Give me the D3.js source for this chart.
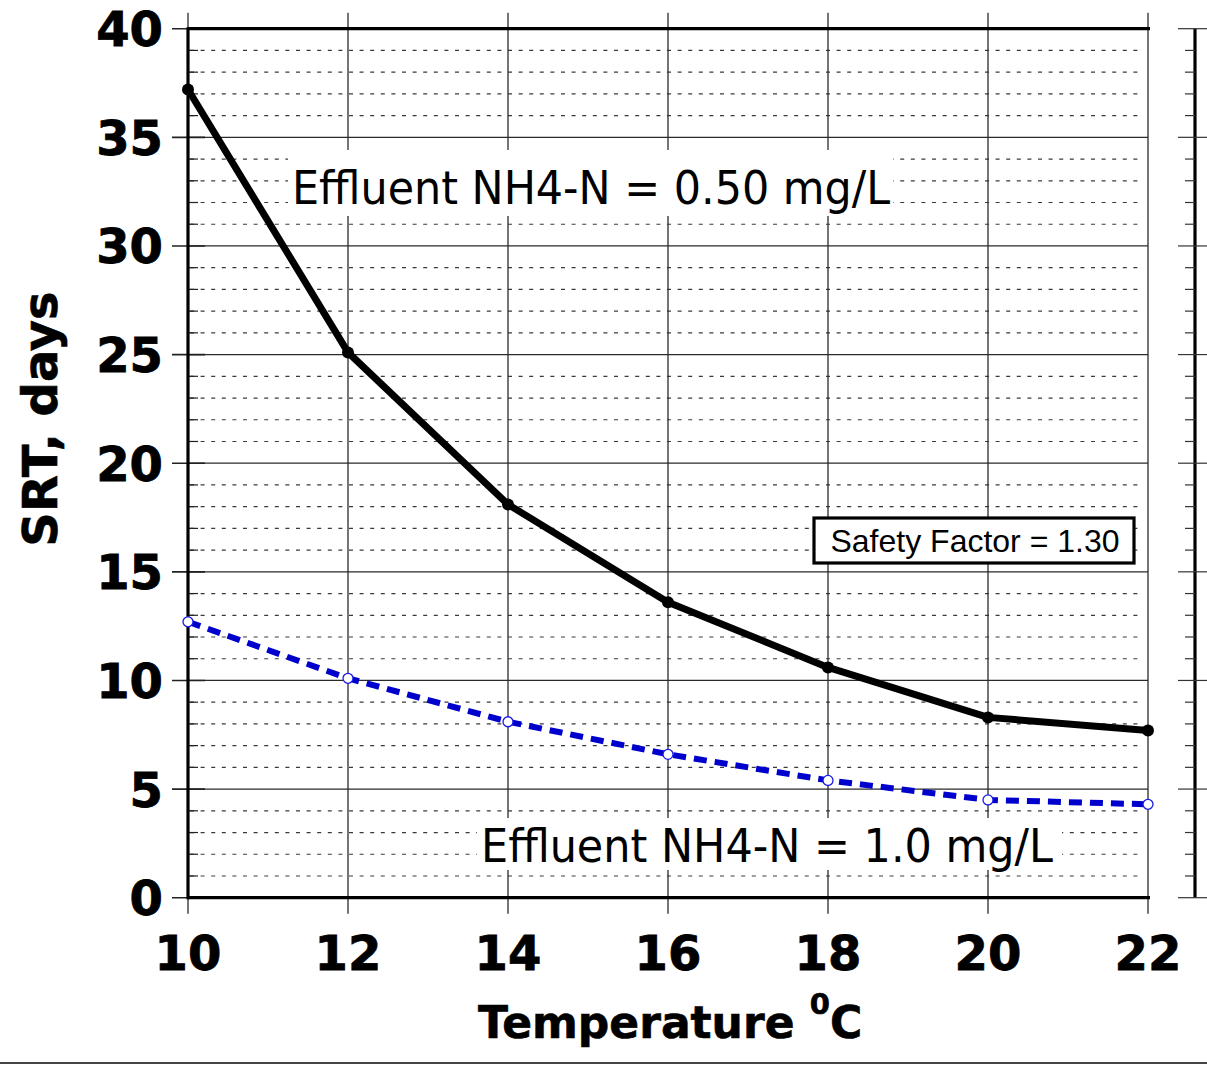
<!DOCTYPE html>
<html>
<head>
<meta charset="utf-8">
<script src="https://cdn.jsdelivr.net/npm/d3@7"></script>
<style>
  html, body { margin: 0; padding: 0; background: #fff; }
  svg { display: block; }
</style>
</head>
<body>
<svg id="chart" width="1207" height="1066"></svg>
<script>
// Temperature (°C) on the x axis
const temperatures = [10, 12, 14, 16, 18, 20, 22];
// Design SRT (days) for effluent NH4-N = 0.50 mg/L
const srtHalf = [37.2, 25.1, 18.1, 13.6, 10.6, 8.3, 7.7];
// Design SRT (days) for effluent NH4-N = 1.0 mg/L
const srtOne = [12.7, 10.1, 8.1, 6.6, 5.4, 4.5, 4.3];
// Tick values
const xTicks = [10, 12, 14, 16, 18, 20, 22];
const yTicks = [0, 5, 10, 15, 20, 25, 30, 35, 40];
const yMinorTicks = d3.range(0, 41, 1);
// Text
const xTitle = "Temperature ";
const xTitleSup = "0";
const xTitleUnit = "C";
const yTitle = "SRT, days";
const labelHalf = "Effluent NH4-N = 0.50 mg/L";
const labelOne = "Effluent NH4-N = 1.0 mg/L";
const noteText = "Safety Factor = 1.30";

const svg = d3.select("#chart");
const x = d3.scaleLinear().domain([10, 22]).range([188, 1148]);
const y = d3.scaleLinear().domain([0, 40]).range([897.7, 28.7]);
const [x0, x1] = x.range();
const [yb, yt] = y.range();

// minor horizontal grid (dashed)
svg.append("g").selectAll("line")
  .data(yMinorTicks.filter(v => v % 5 !== 0))
  .join("line")
  .attr("x1", x0 + 2).attr("x2", x1 - 5)
  .attr("y1", d => y(d)).attr("y2", d => y(d))
  .attr("stroke", "#3a3a3a").attr("stroke-width", 1.2)
  .attr("stroke-dasharray", "4,6.6");

// major horizontal grid
svg.append("g").selectAll("line")
  .data(yTicks.filter(v => v > 0 && v < 40))
  .join("line")
  .attr("x1", x0).attr("x2", x1)
  .attr("y1", d => y(d)).attr("y2", d => y(d))
  .attr("stroke", "#2a2a2a").attr("stroke-width", 1.3);

// vertical grid, extending past the frame as ticks
svg.append("g").selectAll("line")
  .data(xTicks)
  .join("line")
  .attr("x1", d => x(d)).attr("x2", d => x(d))
  .attr("y1", yt - 16).attr("y2", yb + 16)
  .attr("stroke", "#2a2a2a").attr("stroke-width", 1.3);

// white backing for the in-plot labels
const bgs = [
  { x: 288, y: 150, w: 605, h: 66 },
  { x: 477, y: 818, w: 585, h: 52 }
];
svg.append("g").selectAll("rect").data(bgs).join("rect")
  .attr("x", d => d.x).attr("y", d => d.y)
  .attr("width", d => d.w).attr("height", d => d.h)
  .attr("fill", "#fff");

// left axis ticks
svg.append("g").selectAll("line")
  .data(yMinorTicks)
  .join("line")
  .attr("x1", d => d % 5 === 0 ? x0 - 16 : x0)
  .attr("x2", d => d % 5 === 0 ? x0 + 17 : x0 + 10)
  .attr("y1", d => y(d)).attr("y2", d => y(d))
  .attr("stroke", "#222").attr("stroke-width", d => d % 5 === 0 ? 1.6 : 1.2);

// frame
svg.append("line").attr("x1", x0).attr("x2", x0).attr("y1", yt - 1.5).attr("y2", yb + 1.5)
  .attr("stroke", "#000").attr("stroke-width", 3.2);
svg.append("line").attr("x1", x0).attr("x2", x1 + 2).attr("y1", yt).attr("y2", yt)
  .attr("stroke", "#000").attr("stroke-width", 3.2);
svg.append("line").attr("x1", x0).attr("x2", x1 + 2).attr("y1", yb).attr("y2", yb)
  .attr("stroke", "#000").attr("stroke-width", 3.2);

// detached right axis
const xr = 1195;
svg.append("line").attr("x1", xr).attr("x2", xr).attr("y1", yt).attr("y2", yb)
  .attr("stroke", "#000").attr("stroke-width", 3.2);
svg.append("g").selectAll("line")
  .data(yMinorTicks)
  .join("line")
  .attr("x1", d => d % 5 === 0 ? xr - 17 : xr - 10)
  .attr("x2", d => d % 5 === 0 ? 1207 : xr)
  .attr("y1", d => y(d)).attr("y2", d => y(d))
  .attr("stroke", "#333").attr("stroke-width", 1.2);

// y tick labels
svg.append("g").selectAll("text")
  .data(yTicks)
  .join("text")
  .attr("x", 163).attr("y", d => y(d) + 17.5)
  .attr("text-anchor", "end")
  .attr("font-family", "DejaVu Sans, Verdana, sans-serif")
  .attr("font-weight", "bold").attr("font-size", 48)
  .attr("stroke", "#000").attr("stroke-width", 0.8)
  .text(d => d);

// x tick labels
svg.append("g").selectAll("text")
  .data(xTicks)
  .join("text")
  .attr("x", d => x(d)).attr("y", 970)
  .attr("text-anchor", "middle")
  .attr("font-family", "DejaVu Sans, Verdana, sans-serif")
  .attr("font-weight", "bold").attr("font-size", 48)
  .attr("stroke", "#000").attr("stroke-width", 0.8)
  .text(d => d);

// axis titles
const xt = svg.append("text")
  .attr("x", 478).attr("y", 1038)
  .attr("font-family", "DejaVu Sans, Verdana, sans-serif")
  .attr("font-weight", "bold").attr("font-size", 44)
  .attr("stroke", "#000").attr("stroke-width", 0.6);
xt.append("tspan").text(xTitle);
xt.append("tspan").attr("font-size", 29).attr("dy", -24).text(xTitleSup);
xt.append("tspan").attr("dy", 24).text(xTitleUnit);

svg.append("text")
  .attr("transform", "translate(57,419) rotate(-90)")
  .attr("text-anchor", "middle")
  .attr("font-family", "DejaVu Sans, Verdana, sans-serif")
  .attr("font-weight", "bold").attr("font-size", 48)
  .attr("stroke", "#000").attr("stroke-width", 0.6)
  .text(yTitle);

// series
const line = d3.line().x(d => x(d[0])).y(d => y(d[1]));
const half = temperatures.map((t, i) => [t, srtHalf[i]]);
const one = temperatures.map((t, i) => [t, srtOne[i]]);

svg.append("path").datum(one).attr("d", line)
  .attr("fill", "none").attr("stroke", "#0000cc").attr("stroke-width", 6)
  .attr("stroke-dasharray", "13,8");
svg.append("path").datum(half).attr("d", line)
  .attr("fill", "none").attr("stroke", "#000").attr("stroke-width", 7)
  .attr("stroke-linejoin", "round");

svg.append("g").selectAll("circle").data(half).join("circle")
  .attr("cx", d => x(d[0])).attr("cy", d => y(d[1])).attr("r", 6)
  .attr("fill", "#000");
svg.append("g").selectAll("circle").data(one).join("circle")
  .attr("cx", d => x(d[0])).attr("cy", d => y(d[1])).attr("r", 5)
  .attr("fill", "#fff").attr("stroke", "#1a1ae6").attr("stroke-width", 1.3);

// in-plot labels
svg.append("text")
  .attr("x", 292).attr("y", 204)
  .attr("font-family", "DejaVu Sans, Verdana, sans-serif")
  .attr("font-size", 46)
  .attr("textLength", 598).attr("lengthAdjust", "spacingAndGlyphs")
  .text(labelHalf);
svg.append("text")
  .attr("x", 481).attr("y", 862)
  .attr("font-family", "DejaVu Sans, Verdana, sans-serif")
  .attr("font-size", 46)
  .attr("textLength", 572).attr("lengthAdjust", "spacingAndGlyphs")
  .text(labelOne);

// safety factor note
svg.append("rect")
  .attr("x", 814).attr("y", 518).attr("width", 320).attr("height", 45)
  .attr("fill", "#fff").attr("stroke", "#000").attr("stroke-width", 3.2);
svg.append("text")
  .attr("x", 975).attr("y", 552)
  .attr("text-anchor", "middle")
  .attr("font-family", "Liberation Sans, Arial, sans-serif")
  .attr("font-size", 32)
  .text(noteText);

// bottom rule
svg.append("line").attr("x1", 0).attr("x2", 1207).attr("y1", 1063).attr("y2", 1063)
  .attr("stroke", "#444").attr("stroke-width", 2);
</script>
</body>
</html>
